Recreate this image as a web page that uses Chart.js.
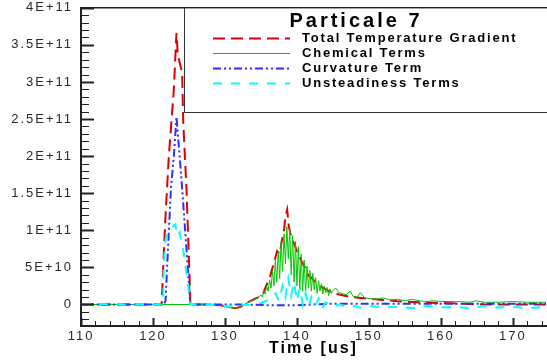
<!DOCTYPE html>
<html>
<head>
<meta charset="utf-8">
<script src="https://cdn.jsdelivr.net/npm/chart.js@4.4.0/dist/chart.umd.min.js"></script>
<style>
  html, body { margin: 0; padding: 0; background: #fff; }
  #wrap { width: 547px; height: 364px; position: relative; }
</style>
</head>
<body>
<div id="wrap"><canvas id="chart"></canvas></div>
<script>
// all series values are in units of 1E+11
const E11 = 1e11;

const redTime = [110, 112, 114, 116, 118, 120, 121.0, 121.2, 121.3, 121.7, 122.2, 122.9, 123.26,
  123.45, 124.05, 124.2, 124.65, 124.97, 125.2, 126, 128, 129.5, 130.5, 131.5, 132.2,
  133, 134.2, 135.17, 136.3, 137.25, 137.6, 137.94, 138.2, 138.4, 138.64, 138.86, 139.1, 139.33, 139.6,
  140.0, 140.3, 140.7, 141.1, 141.6, 142.0, 142.6, 143.0, 143.5, 144.2, 144.9, 146, 147.5,
  149.75, 152, 153.9, 157, 160, 163, 166, 170, 174.6];
const redValues = [0, 0, 0, 0, 0, 0, 0, 0, 0.23, 1.12, 2.0, 2.9, 3.66,
  3.36, 3.13, 2.46, 1.57, 0.68, 0, 0, 0, -0.01, -0.04, -0.05, -0.03,
  0.02, 0.08, 0.12, 0.39, 0.72, 0.68, 0.88, 1.0, 1.19, 1.28, 1.06, 0.95, 0.88, 0.82,
  0.72, 0.66, 0.57, 0.5, 0.39, 0.36, 0.30, 0.27, 0.23, 0.19, 0.16, 0.13, 0.10,
  0.08, 0.06, 0.045, 0.03, 0.02, 0.01, 0, 0, 0];

const greenTime = [110, 120, 125, 128, 129.5, 130.5, 131.5, 132.2,
  133.0, 133.4, 133.8, 134.2, 134.6,
  135.0, 135.2, 135.4, 135.6, 135.8, 136.0, 136.2, 136.4, 136.6, 136.8,
  137.0, 137.2, 137.4, 137.6, 137.8, 138.0, 138.2, 138.4, 138.6, 138.8,
  139.0, 139.2, 139.4, 139.6, 139.8, 140.0, 140.2, 140.4, 140.6, 140.8,
  141.0, 141.2, 141.4, 141.6, 141.8, 142.0, 142.2, 142.4, 142.6, 142.8,
  143.0, 143.2, 143.4, 143.6, 143.8, 144.0, 144.2, 144.4, 144.6, 144.8,
  145.0, 145.4, 145.8, 146.2, 146.8, 147.4, 147.8, 148.4, 148.8, 149.4,
  150, 151, 152, 153, 154, 155, 156, 157, 158, 159, 160,
  162, 164, 165, 166, 168, 170, 172, 174.6];
const greenValues = [0, 0, 0, 0, -0.01, -0.04, -0.05, -0.03,
  0.02, 0.04, 0.05, 0.07, 0.09,
  0.13, 0.10, 0.18, 0.14, 0.25, 0.18, 0.33, 0.22, 0.45, 0.25,
  0.60, 0.30, 0.72, 0.35, 0.85, 0.45, 0.95, 0.55, 1.05, 0.62,
  1.02, 0.40, 0.93, 0.30, 0.85, 0.25, 0.78, 0.20, 0.68, 0.18,
  0.60, 0.15, 0.52, 0.22, 0.46, 0.18, 0.42, 0.20, 0.36, 0.15,
  0.32, 0.18, 0.28, 0.14, 0.25, 0.16, 0.23, 0.12, 0.21, 0.15,
  0.19, 0.22, 0.16, 0.15, 0.13, 0.18, 0.11, 0.10, 0.16, 0.09,
  0.08, 0.07, 0.09, 0.06, 0.07, 0.05, 0.07, 0.05, 0.04, 0.05, 0.04,
  0.04, 0.03, 0.05, 0.03, 0.03, 0.04, 0.03, 0.03];

const blueTime = [110, 112, 114, 116, 118, 120,
  121.5, 121.75, 122.05, 122.5, 122.9, 123.26, 123.7, 124.05, 124.7, 125.05, 125.15,
  127, 130, 133, 136, 138, 140, 142, 145, 150, 155, 160, 165, 170, 174.6];
const blueValues = [0, 0, 0, 0, 0, 0,
  0, 0.05, 0.68, 1.57, 2.0, 2.53, 2.0, 1.57, 0.68, 0.2, 0,
  0, 0, 0, -0.01, -0.01, -0.01, 0, 0.01, 0.01, 0.01, 0.01, 0.01, 0.01, 0.01];

const cyanTime = [110, 111, 112, 113, 114, 115, 116, 117, 118, 119, 120, 121,
  121.4, 121.5, 121.75, 122.2, 122.6, 123.1, 123.4, 123.7, 124.25, 124.7, 125.05, 125.2,
  126, 128, 130, 132, 134, 135, 136, 137, 137.5, 138,
  138.4, 138.8, 139.2, 139.6, 140, 140.4, 140.8, 141.2, 141.6, 142,
  142.5, 143, 143.5, 144, 145, 146, 147, 148, 149, 150,
  152, 154, 156, 158, 160, 162, 164, 166, 168, 170, 172, 174.6];
const cyanValues = [0, 0.005, -0.005, 0.005, 0, 0.005, -0.005, 0, 0.005, 0, 0, 0,
  0, 0.56, 0.88, 0.99, 1.04, 1.08, 0.92, 0.97, 0.70, 0.39, 0.12, 0,
  0, 0, -0.02, -0.01, 0, 0.02, 0.06, 0.15, 0.05, 0.25,
  0.1, 0.35, 0.12, 0.3, 0.05, 0.22, 0.0, 0.15, -0.03, 0.1,
  -0.02, 0.08, -0.05, 0.03, -0.03, 0, -0.04, -0.02, -0.05, -0.02,
  -0.04, -0.03, -0.05, -0.02, -0.04, -0.03, -0.05, -0.02, -0.04, -0.03, -0.05, -0.03];

const seriesNames = ['Total Temperature Gradient', 'Chemical Terms', 'Curvature Term', 'Unsteadiness Terms'];
const chartTitle = 'Particale 7';
const xAxisTitle = 'Time [us]';
const xTickValues = [110, 120, 130, 140, 150, 160, 170];
const yTickValues = [0, 0.5, 1, 1.5, 2, 2.5, 3, 3.5, 4];
const yTickLabels = ['0', '5E+10', '1E+11', '1.5E+11', '2E+11', '2.5E+11', '3E+11', '3.5E+11', '4E+11'];

// line styles (Tecplot-like)
const seriesStyles = [
    { color: '#dd0000', width: 2, dash: [12, 6] },
    { color: '#00c800', width: 1, dash: [] },
    { color: '#2f2fff', width: 2, dash: [8, 3, 2, 3, 2, 3] },
    { color: '#00ffff', width: 2, dash: [9, 9] }
];

function toPoints(times, values) {
    return times.map((t, i) => ({ x: t, y: values[i] * E11 }));
}

const FONT = '"Liberation Sans", Arial, sans-serif';

// inward ticks, top frame line and the boxed legend
const framePlugin = {
    id: 'frame',
    beforeLayout(chart) {
        chart.ctx.letterSpacing = '2px';
    },
    beforeDraw(chart) {
        chart.ctx.letterSpacing = '2px';
    },
    afterDatasetsDraw(chart) {
        const { ctx, chartArea: a, scales: { x, y } } = chart;
        ctx.save();
        ctx.strokeStyle = '#222';

        // y ticks (pointing into the plot)
        for (let v = -2; v <= 40; v++) {
            const py = Math.round(y.getPixelForValue(v * 1e10)) + 0.5;
            const major = v % 5 === 0;
            ctx.lineWidth = major ? 2 : 1;
            ctx.beginPath();
            ctx.moveTo(a.left, py);
            ctx.lineTo(a.left + (major ? 13 : 8), py);
            ctx.stroke();
        }
        // x ticks
        for (let v = 110; v <= 174; v += 2) {
            const px = Math.round(x.getPixelForValue(v)) + 0.5;
            const major = v % 10 === 0;
            ctx.lineWidth = major ? 2 : 1;
            ctx.beginPath();
            ctx.moveTo(px, a.bottom);
            ctx.lineTo(px, a.bottom - (major ? 8 : 5));
            ctx.stroke();
        }
        // top frame line
        ctx.lineWidth = 1.5;
        ctx.beginPath();
        ctx.moveTo(a.left, a.top);
        ctx.lineTo(chart.width, a.top);
        ctx.stroke();

        // legend box
        const bx = 184.5, by = a.top, bb = 112.5;
        ctx.fillStyle = '#fff';
        ctx.fillRect(bx, by + 1, chart.width - bx, bb - by - 1);
        ctx.lineWidth = 1;
        ctx.strokeStyle = '#333';
        ctx.beginPath();
        ctx.moveTo(bx, by);
        ctx.lineTo(bx, bb);
        ctx.lineTo(chart.width, bb);
        ctx.stroke();

        ctx.fillStyle = '#000';
        ctx.textBaseline = 'middle';
        ctx.textAlign = 'center';
        ctx.letterSpacing = '3px';
        ctx.font = 'bold 20px ' + FONT;
        ctx.fillText(chartTitle, 356, 21);

        ctx.textAlign = 'left';
        ctx.letterSpacing = '1.8px';
        ctx.font = 'bold 13px ' + FONT;
        const rows = [38.5, 53.5, 68.5, 83.5];
        seriesNames.forEach((name, i) => {
            const s = seriesStyles[i];
            ctx.strokeStyle = s.color;
            ctx.lineWidth = s.width;
            ctx.setLineDash(s.dash);
            ctx.beginPath();
            ctx.moveTo(213, rows[i]);
            ctx.lineTo(290, rows[i]);
            ctx.stroke();
            ctx.setLineDash([]);
            ctx.fillText(name, 302, rows[i]);
        });
        ctx.restore();
    }
};

const series = [
    toPoints(redTime, redValues),
    toPoints(greenTime, greenValues),
    toPoints(blueTime, blueValues),
    toPoints(cyanTime, cyanValues)
];

new Chart(document.getElementById('chart'), {
    type: 'line',
    data: {
        datasets: series.map((pts, i) => ({
            label: seriesNames[i],
            data: pts,
            borderColor: seriesStyles[i].color,
            borderWidth: seriesStyles[i].width,
            borderDash: seriesStyles[i].dash,
            pointRadius: 0,
            tension: 0,
            fill: false,
            order: 4 - i
        }))
    },
    options: {
        responsive: true,
        maintainAspectRatio: false,
        animation: false,
        layout: { padding: { top: 5, right: 1, left: 0, bottom: 0 } },
        plugins: {
            legend: { display: false },
            title: { display: false },
            tooltip: { enabled: false }
        },
        scales: {
            x: {
                type: 'linear',
                min: 110,
                max: 174.6,
                afterBuildTicks: (scale) => {
                    scale.ticks = xTickValues.map(v => ({ value: v }));
                },
                afterFit: (scale) => { scale.height = 38; },
                grid: { display: false },
                border: { display: true, color: '#222', width: 2 },
                ticks: {
                    color: '#2a2a2a',
                    font: { family: FONT, size: 13 },
                    padding: -5,
                    maxRotation: 0,
                    autoSkip: false
                },
                title: {
                    display: true,
                    text: xAxisTitle,
                    color: '#000',
                    font: { family: FONT, size: 16, weight: 'bold' },
                    padding: { top: 0, bottom: 6 }
                }
            },
            y: {
                type: 'linear',
                min: -0.29 * E11,
                max: 4 * E11,
                afterBuildTicks: (scale) => {
                    scale.ticks = yTickValues.map(v => ({ value: v * E11 }));
                },
                afterFit: (scale) => { scale.width = 81; },
                grid: { display: false },
                border: { display: true, color: '#222', width: 2 },
                ticks: {
                    color: '#2a2a2a',
                    font: { family: FONT, size: 13 },
                    padding: 0,
                    autoSkip: false,
                    callback: (value, index) => yTickLabels[index]
                }
            }
        }
    },
    plugins: [framePlugin]
});
</script>
</body>
</html>
